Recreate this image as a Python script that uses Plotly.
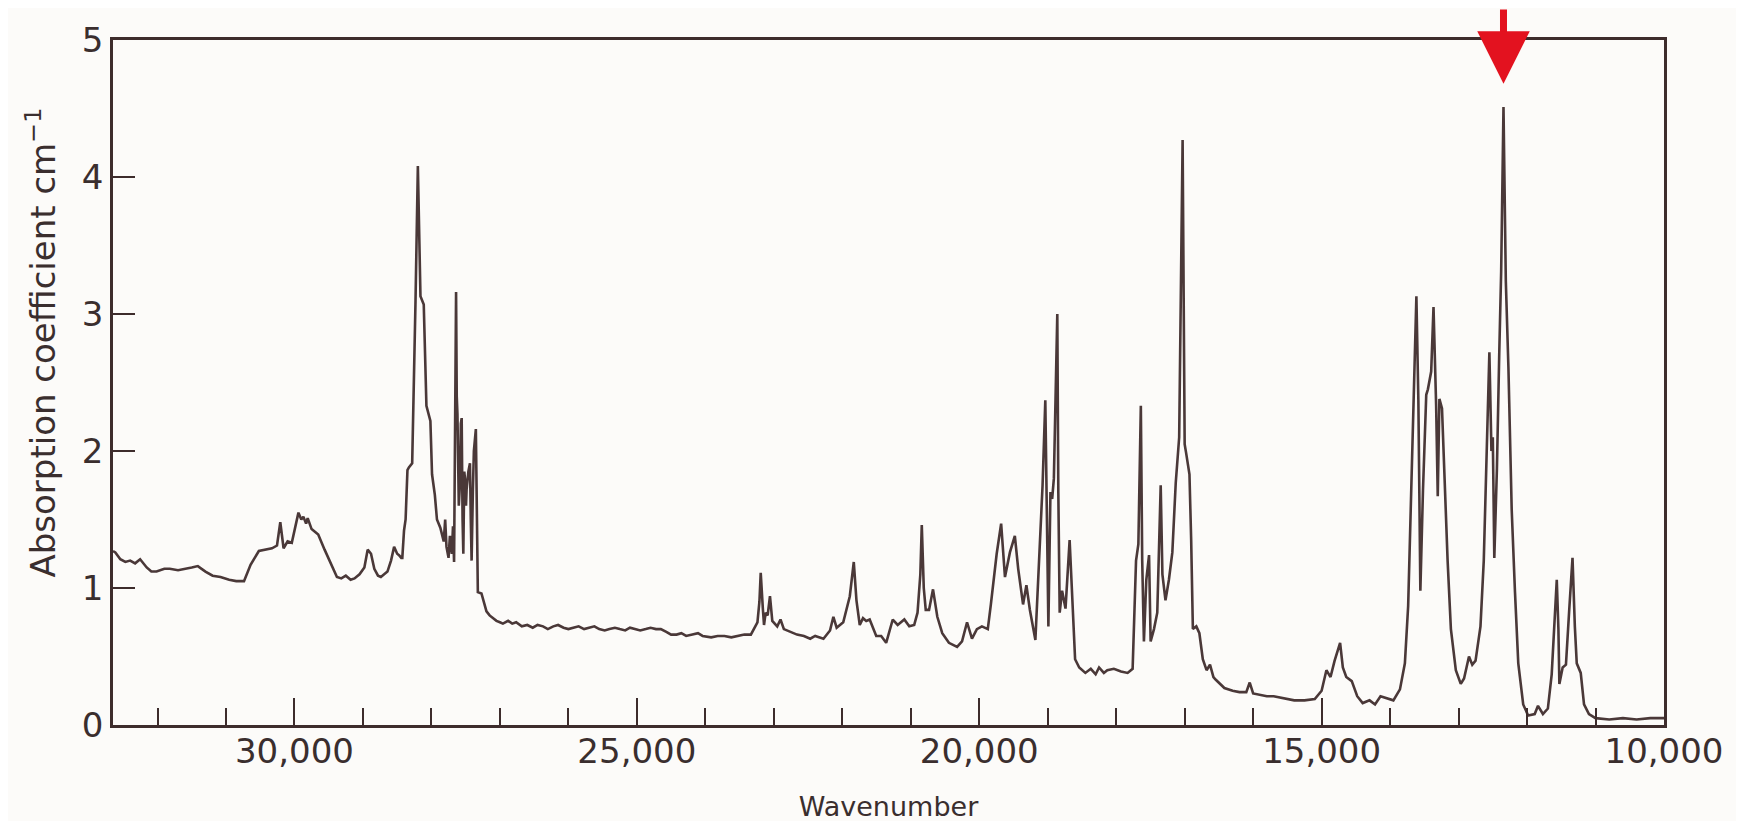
import plotly.graph_objects as go

# ---- data (wavenumber in cm^-1, absorption coefficient in cm^-1)
wavenumber = [
    32650, 32616, 32543, 32470, 32399, 32327, 32254, 32158, 32090, 32014,
    31900, 31821, 31700, 31580, 31500, 31411, 31300, 31195, 31080, 30954,
    30850, 30737, 30641, 30520, 30430, 30328, 30255, 30207, 30159, 30100,
    30039, 29942, 29900, 29870, 29830, 29807, 29750, 29653, 29560, 29460,
    29380, 29316, 29250, 29180, 29123, 29050, 28979, 28931, 28882, 28834,
    28780, 28738, 28690, 28642, 28590, 28545, 28500, 28473, 28440, 28425,
    28400, 28377, 28350, 28329, 28281, 28250, 28232, 28198, 28175, 28160,
    28112, 28090, 28073, 28015, 27991, 27950, 27919, 27870, 27847, 27820,
    27799, 27780, 27750, 27730, 27702, 27685, 27669, 27655, 27640, 27630,
    27620, 27600, 27582, 27570, 27558, 27545, 27534, 27520, 27510, 27495,
    27486, 27460, 27437, 27425, 27413, 27395, 27380, 27351, 27335, 27322,
    27269, 27230, 27196, 27150, 27100, 27050, 27000, 26956, 26880, 26820,
    26763, 26680, 26600, 26520, 26450, 26370, 26300, 26220, 26150, 26070,
    26000, 25920, 25850, 25770, 25700, 25620, 25550, 25470, 25400, 25320,
    25250, 25170, 25100, 25020, 24950, 24870, 24800, 24720, 24650, 24570,
    24500, 24420, 24350, 24280, 24200, 24107, 24040, 23914, 23820, 23721,
    23620, 23528, 23430, 23335, 23239, 23210, 23191, 23160, 23143, 23119,
    23090, 23056, 23022, 22950, 22902, 22853, 22760, 22661, 22560, 22468,
    22396, 22275, 22179, 22130, 22082, 21986, 21890, 21850, 21832, 21793,
    21745, 21697, 21650, 21600, 21504, 21432, 21359, 21263, 21191, 21094,
    21022, 20950, 20901, 20860, 20839, 20810, 20781, 20733, 20675, 20612,
    20540, 20443, 20323, 20251, 20178, 20106, 20034, 19961, 19875, 19830,
    19793, 19745, 19680, 19624, 19552, 19480, 19431, 19360, 19311, 19260,
    19180, 19120, 19075, 19035, 19015, 18990, 18960, 18935, 18910, 18860,
    18845, 18825, 18790, 18740, 18680, 18645, 18600, 18540, 18450, 18371,
    18300, 18250, 18180, 18130, 18034, 17930, 17833, 17760, 17710, 17676,
    17640, 17620, 17595, 17560, 17520, 17497, 17448, 17400, 17350, 17325,
    17280, 17230, 17180, 17130, 17080, 17030, 17000, 16980, 16930, 16905,
    16880, 16830, 16785, 16735, 16680, 16630, 16580, 16545, 16420, 16300,
    16200, 16100, 16050, 16000, 15900, 15800, 15700, 15600, 15500, 15400,
    15250, 15100, 15000, 14930, 14870, 14810, 14730, 14690, 14640, 14560,
    14480, 14400, 14300, 14220, 14140, 14080, 13952, 13856, 13784, 13736,
    13688, 13654, 13616, 13587, 13558, 13520, 13472, 13448, 13400, 13366,
    13328, 13304, 13280, 13242, 13208, 13160, 13112, 13040, 12968, 12920,
    12848, 12800, 12752, 12680, 12632, 12584, 12550, 12520, 12500, 12478,
    12440, 12406, 12378, 12344, 12310, 12272, 12224, 12176, 12128, 12056,
    11984, 11888, 11840, 11768, 11696, 11640, 11600, 11566, 11542, 11528,
    11480, 11432, 11384, 11336, 11302, 11274, 11216, 11168, 11096, 11000,
    10800, 10600, 10400, 10200, 10000,
]

absorption = [
    1.27, 1.26, 1.21, 1.19, 1.20, 1.18, 1.21, 1.15, 1.12, 1.12,
    1.14, 1.14, 1.13, 1.14, 1.15, 1.16, 1.12, 1.09, 1.08, 1.06,
    1.05, 1.05, 1.17, 1.27, 1.28, 1.29, 1.31, 1.48, 1.29, 1.34,
    1.33, 1.55, 1.50, 1.52, 1.47, 1.51, 1.43, 1.39, 1.28, 1.17,
    1.08, 1.07, 1.09, 1.06, 1.07, 1.10, 1.15, 1.28, 1.25, 1.14,
    1.09, 1.08, 1.10, 1.12, 1.20, 1.30, 1.25, 1.24, 1.22, 1.22,
    1.42, 1.50, 1.86, 1.88, 1.91, 2.60, 3.10, 4.08, 3.55, 3.13,
    3.07, 2.50, 2.33, 2.22, 1.83, 1.68, 1.50, 1.44, 1.40, 1.34,
    1.50, 1.30, 1.22, 1.38, 1.25, 1.45, 1.19, 2.00, 3.16, 2.40,
    2.27, 1.60, 1.77, 2.20, 2.24, 1.50, 1.25, 1.85, 1.80, 1.60,
    1.72, 1.85, 1.91, 1.50, 1.20, 1.70, 2.00, 2.16, 1.30, 0.97,
    0.96, 0.88, 0.83, 0.80, 0.78, 0.76, 0.75, 0.74, 0.76, 0.74,
    0.75, 0.72, 0.73, 0.71, 0.73, 0.72, 0.70, 0.72, 0.73, 0.71,
    0.70, 0.71, 0.72, 0.70, 0.71, 0.72, 0.70, 0.69, 0.70, 0.71,
    0.70, 0.69, 0.71, 0.70, 0.69, 0.70, 0.71, 0.70, 0.70, 0.68,
    0.66, 0.66, 0.67, 0.65, 0.66, 0.67, 0.65, 0.64, 0.65, 0.65,
    0.64, 0.65, 0.66, 0.66, 0.75, 0.90, 1.11, 0.85, 0.73, 0.82,
    0.80, 0.94, 0.76, 0.72, 0.77, 0.70, 0.68, 0.66, 0.65, 0.63,
    0.65, 0.63, 0.69, 0.79, 0.71, 0.75, 0.94, 1.10, 1.19, 0.91,
    0.73, 0.78, 0.76, 0.77, 0.65, 0.65, 0.60, 0.77, 0.73, 0.77,
    0.72, 0.73, 0.82, 1.10, 1.46, 1.00, 0.84, 0.84, 0.99, 0.79,
    0.67, 0.60, 0.57, 0.61, 0.75, 0.63, 0.70, 0.72, 0.70, 0.88,
    1.06, 1.25, 1.47, 1.08, 1.26, 1.38, 1.14, 0.88, 1.02, 0.84,
    0.62, 1.25, 1.75, 2.37, 1.70, 0.72, 1.70, 1.65, 1.80, 3.00,
    1.70, 0.82, 0.98, 0.85, 1.35, 0.94, 0.48, 0.42, 0.38, 0.41,
    0.37, 0.42, 0.38, 0.40, 0.41, 0.39, 0.38, 0.41, 1.20, 1.32,
    2.33, 1.20, 0.61, 1.06, 1.24, 0.61, 0.70, 0.82, 1.75, 1.10,
    0.91, 1.06, 1.26, 1.77, 2.10, 4.27, 2.05, 1.99, 1.83, 1.35,
    0.70, 0.72, 0.67, 0.48, 0.40, 0.44, 0.35, 0.33, 0.27, 0.25,
    0.24, 0.24, 0.31, 0.23, 0.22, 0.21, 0.21, 0.20, 0.19, 0.18,
    0.18, 0.19, 0.25, 0.40, 0.35, 0.47, 0.60, 0.42, 0.35, 0.32,
    0.21, 0.16, 0.18, 0.15, 0.21, 0.20, 0.18, 0.26, 0.45, 0.87,
    1.71, 2.31, 3.13, 2.37, 0.98, 1.71, 2.41, 2.45, 2.58, 3.05,
    2.34, 1.67, 2.38, 2.31, 1.81, 1.20, 0.70, 0.40, 0.30, 0.34,
    0.50, 0.44, 0.47, 0.72, 1.20, 2.04, 2.72, 2.00, 2.10, 1.22,
    1.87, 2.71, 3.31, 4.51, 3.24, 2.61, 1.57, 0.97, 0.45, 0.15,
    0.07, 0.08, 0.14, 0.08, 0.12, 0.37, 0.70, 1.06, 0.70, 0.30,
    0.42, 0.44, 0.84, 1.22, 0.72, 0.45, 0.38, 0.15, 0.08, 0.05,
    0.04, 0.05, 0.04, 0.05, 0.05,
]

x_major_ticks = [30000, 25000, 20000, 15000, 10000]
y_ticks = [0, 1, 2, 3, 4, 5]
x_title = "Wavenumber"
y_title = "Absorption coefficient cm<sup>−1</sup>"

INK = "#3d2c2c"
TRACE = "#4a3838"
PAPER = "#fcfbf9"

fig = go.Figure()
fig.add_trace(go.Scatter(
    x=wavenumber, y=absorption, mode="lines",
    line=dict(color=TRACE, width=2.6),
    hoverinfo="skip", showlegend=False,
))

fig.update_layout(
    width=1744, height=821,
    margin=dict(l=105, r=88, t=30, b=92),
    paper_bgcolor=PAPER, plot_bgcolor=PAPER,
    font=dict(family="DejaVu Sans", color="#3a2e2e"),
)

fig.update_xaxes(
    range=[32650, 10000],
    tickvals=x_major_ticks, tickformat=",d",
    ticks="inside", ticklen=27, tickwidth=2, tickcolor=INK,
    ticklabelstandoff=-6,
    minor=dict(tick0=10000, dtick=1000, ticks="inside", ticklen=17,
               tickwidth=2, tickcolor=INK),
    showline=True, mirror=True, linecolor=INK, linewidth=2.5,
    showgrid=False, zeroline=False,
    tickfont=dict(size=34, color="#3a2e2e"),
    title=dict(text=x_title, font=dict(size=27, color="#3a2e2e"), standoff=28),
)

fig.update_yaxes(
    range=[0, 5], tickvals=y_ticks,
    ticks="inside", ticklen=22, tickwidth=2, tickcolor=INK,
    showline=True, mirror=True, linecolor=INK, linewidth=2.5,
    showgrid=False, zeroline=False,
    tickfont=dict(size=34, color="#3a2e2e"),
)

# rotated y-axis title (placed slightly above centre, as in the original)
fig.add_annotation(
    xref="paper", yref="paper", x=-0.0466, y=0.558,
    text=y_title, textangle=-90, showarrow=False,
    font=dict(size=34, color="#3a2e2e"),
    xanchor="center", yanchor="middle",
)

# red hand-drawn arrow pointing at the strongest peak
fig.add_annotation(
    x=12344, y=4.68, xref="x", yref="y",
    ax=0, ay=-82, text="",
    showarrow=True, arrowhead=2, arrowsize=1.5, arrowwidth=7,
    arrowcolor="#e3121f",
)

fig.write_html("out.html")
